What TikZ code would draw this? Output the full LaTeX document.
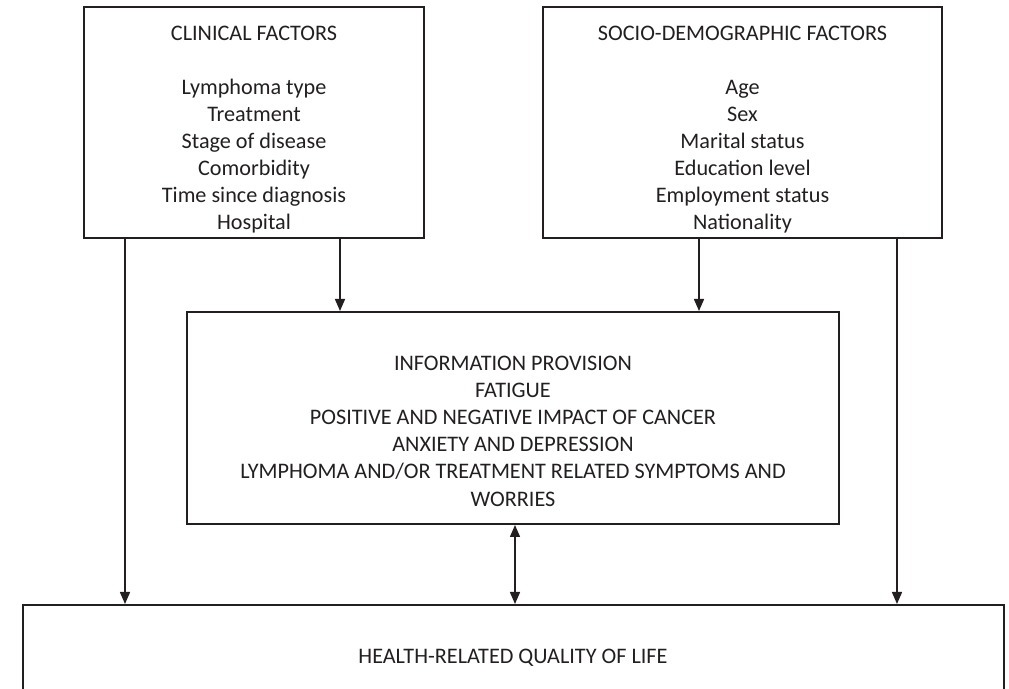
\documentclass[tikz,border=0pt]{standalone}
\usepackage{fontspec}
\setmainfont{Carlito}
\usepackage{tikz}
\usetikzlibrary{arrows.meta, positioning}
\definecolor{inkgray}{RGB}{35,31,32}

\begin{document}
\begin{tikzpicture}[x=0.5pt, y=-0.5pt, font=\fontsize{11.1}{13.5}\selectfont,
    box/.style={draw=inkgray, line width=1pt, inner sep=0pt},
    txt/.style={align=center, text=inkgray, inner sep=0pt},
    arr/.style={-{Triangle[length=6pt, width=5pt]}, line width=0.75pt, draw=inkgray}]
    \useasboundingbox (0,0) rectangle (1009,689);
    \clip (0,0) rectangle (1009,689);
    % factor boxes
    \node[box, minimum width=170pt, minimum height=115.5pt] (clin) at (254,122.5) {};
    \node[txt] (clint) at (254,129.5)
      {CLINICAL FACTORS\\[13.5pt] Lymphoma type\\ Treatment\\ Stage of disease\\ Comorbidity\\ Time since diagnosis\\ Hospital};
    \node[box, minimum width=199.5pt, minimum height=115.5pt] (soc) at (742.5,122.5) {};
    \node[txt] (soct) at (742.5,129.5)
      {SOCIO-DEMOGRAPHIC FACTORS\\[13.5pt] Age\\ Sex\\ Marital status\\ Education level\\ Employment status\\ Nationality};
    % mediators
    \node[box, minimum width=326pt, minimum height=106pt] (info) at (513,418) {};
    \node[txt, font=\fontsize{11.1}{13.6}\selectfont] (infot) at (513,431) {INFORMATION PROVISION\\ FATIGUE\\ POSITIVE AND NEGATIVE IMPACT OF CANCER\\ ANXIETY AND DEPRESSION\\ LYMPHOMA AND/OR TREATMENT RELATED SYMPTOMS AND\\ WORRIES};
    % outcome
    \node[box, minimum width=490.5pt, minimum height=57.5pt] (hrq) at (513.5,662.5) {};
    \node[txt] (hrqt) at (513,658) {HEALTH-RELATED QUALITY OF LIFE};
    % arrows
    \draw[arr] ([xshift=21pt]clin.south west) -- ([xshift=21pt]clin.south west |- hrq.north);
    \draw[arr] ([xshift=128.5pt]clin.south west) -- ([xshift=128.5pt]clin.south west |- info.north);
    \draw[arr] ([xshift=78.5pt]soc.south west) -- ([xshift=78.5pt]soc.south west |- info.north);
    \draw[arr] ([xshift=177.5pt]soc.south west) -- ([xshift=177.5pt]soc.south west |- hrq.north);
    \draw[arr, {Triangle[length=6pt, width=5pt]}-{Triangle[length=6pt, width=5pt]}] ([xshift=1pt]info.south) -- ([xshift=1pt]info.south |- hrq.north);
\end{tikzpicture}
\end{document}
